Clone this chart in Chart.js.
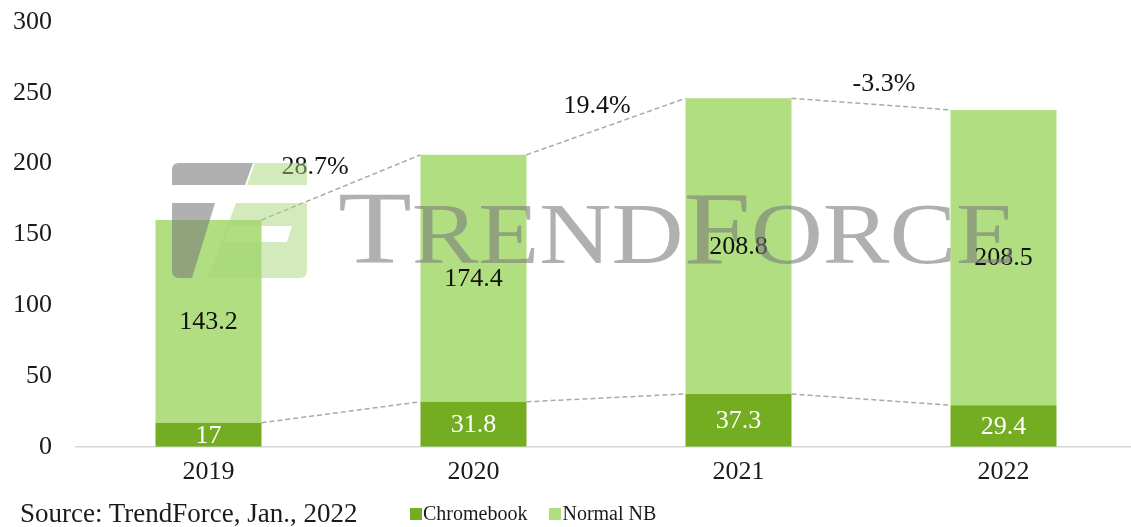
<!DOCTYPE html>
<html>
<head>
<meta charset="utf-8">
<script src="https://cdn.jsdelivr.net/npm/chart.js@4.4.0/dist/chart.umd.min.js"></script>
<style>
  html, body { margin: 0; padding: 0; background: #fff; overflow: hidden; }
  #wrap { position: relative; width: 1136px; height: 527px; }
  .note { position: absolute; font-family: "Liberation Serif", serif; color: #1a1a1a; white-space: nowrap; }
  #source { left: 20px; top: 498px; font-size: 27px; }
  #legend { left: 410px; top: 502px; font-size: 20px; }
  #legend span.box { display: inline-block; width: 12px; height: 12px; margin-right: 1px; }
  #legend span.item { margin-right: 22px; }
</style>
</head>
<body>
<div id="wrap">
  <canvas id="chart" width="1136" height="527"></canvas>
  <div class="note" id="source">Source: TrendForce, Jan., 2022</div>
  <div class="note" id="legend"></div>
</div>
<script>
const years = ['2019', '2020', '2021', '2022'];
const chromebook = [17, 31.8, 37.3, 29.4];
const normalNB = [143.2, 174.4, 208.8, 208.5];
const growth = ['28.7%', '19.4%', '-3.3%'];
const seriesNames = ['Chromebook', 'Normal NB'];
const seriesColors = ['#74ac22', '#b0de80'];
const labelColors = ['#ffffff', '#111111'];

const serif = '"Liberation Serif", "Times New Roman", serif';

// legend in html, under the axis
const legendEl = document.getElementById('legend');
seriesNames.forEach((name, i) => {
  legendEl.innerHTML += `<span class="item"><span class="box" style="background:${seriesColors[i]}"></span>${name}</span>`;
});

const valueLabels = {
  id: 'valueLabels',
  afterDatasetsDraw(chart) {
    const ctx = chart.ctx;
    ctx.save();
    ctx.font = '26px ' + serif;
    ctx.textAlign = 'center';
    ctx.textBaseline = 'middle';
    chart.data.datasets.forEach((ds, di) => {
      const meta = chart.getDatasetMeta(di);
      meta.data.forEach((el, i) => {
        ctx.fillStyle = labelColors[di];
        ctx.fillText(String(ds.data[i]), el.x, (el.y + el.base) / 2 + 1);
      });
    });

    // dashed connectors between bar tops
    ctx.strokeStyle = '#a9a9a9';
    ctx.lineWidth = 1.5;
    ctx.setLineDash([5, 3]);
    [0, 1].forEach(di => {
      const bars = chart.getDatasetMeta(di).data;
      for (let i = 0; i < bars.length - 1; i++) {
        const a = bars[i], b = bars[i + 1];
        ctx.beginPath();
        ctx.moveTo(a.x + a.width / 2, a.y);
        ctx.lineTo(b.x - b.width / 2, b.y);
        ctx.stroke();
      }
    });
    ctx.setLineDash([]);

    // growth labels over the total connectors
    const tops = chart.getDatasetMeta(1).data;
    const dx = [-26, -9, 13];
    ctx.fillStyle = '#111111';
    growth.forEach((g, i) => {
      const a = tops[i], b = tops[i + 1];
      const mx = (a.x + a.width / 2 + b.x - b.width / 2) / 2;
      const my = (a.y + b.y) / 2;
      ctx.fillText(g, mx + dx[i], my - 20);
    });
    ctx.restore();
  }
};

// faded TrendForce mark on top of everything
const watermark = {
  id: 'watermark',
  afterDraw(chart) {
    const ctx = chart.ctx;
    ctx.save();
    ctx.globalAlpha = 0.6;

    // logo
    ctx.fillStyle = '#7c7c7c';
    ctx.beginPath();
    ctx.moveTo(179, 163); ctx.lineTo(253, 163); ctx.lineTo(245, 185); ctx.lineTo(172, 185); ctx.lineTo(172, 170);
    ctx.quadraticCurveTo(172, 163, 179, 163); ctx.fill();
    ctx.beginPath();
    ctx.moveTo(172, 203); ctx.lineTo(215, 203); ctx.lineTo(192, 278); ctx.lineTo(179, 278);
    ctx.quadraticCurveTo(172, 278, 172, 271); ctx.fill();
    ctx.globalAlpha = 0.5;
    ctx.fillStyle = '#a6d67a';
    ctx.beginPath();
    ctx.moveTo(255, 163); ctx.lineTo(307, 163); ctx.lineTo(307, 185); ctx.lineTo(247, 185); ctx.fill();
    ctx.beginPath();
    ctx.moveTo(236, 203); ctx.lineTo(307, 203); ctx.lineTo(307, 226); ctx.lineTo(229, 226);
    ctx.lineTo(224, 242); ctx.lineTo(287, 242); ctx.lineTo(292, 226); ctx.lineTo(307, 226);
    ctx.lineTo(307, 271); ctx.quadraticCurveTo(307, 278, 300, 278); ctx.lineTo(208, 278);
    ctx.closePath();
    ctx.fill();

    // word mark, small caps style
    ctx.globalAlpha = 0.6;
    const parts = [['T', 104], ['REND', 86], ['F', 104], ['ORCE', 86]];
    let total = 0;
    parts.forEach(p => { ctx.font = p[1] + 'px ' + serif; total += ctx.measureText(p[0]).width; });
    const x0 = 338, x1 = 1017, base = 263;
    const sx = (x1 - x0) / total;
    ctx.fillStyle = '#7c7c7c';
    ctx.textBaseline = 'alphabetic';
    ctx.translate(x0, base);
    ctx.scale(sx, 1);
    let x = 0;
    parts.forEach(p => {
      ctx.font = p[1] + 'px ' + serif;
      ctx.fillText(p[0], x, 0);
      x += ctx.measureText(p[0]).width;
    });
    ctx.restore();
  }
};

new Chart(document.getElementById('chart'), {
  type: 'bar',
  data: {
    labels: years,
    datasets: [
      { label: seriesNames[0], data: chromebook, backgroundColor: seriesColors[0] },
      { label: seriesNames[1], data: normalNB, backgroundColor: seriesColors[1] }
    ]
  },
  options: {
    responsive: false,
    animation: false,
    layout: { padding: { top: 22, bottom: 29, left: 0, right: 0 } },
    datasets: { bar: { categoryPercentage: 1, barPercentage: 0.4 } },
    plugins: { legend: { display: false }, tooltip: { enabled: false } },
    scales: {
      x: {
        stacked: true,
        grid: { display: false, drawTicks: false },
        border: { color: '#d6d6d6', width: 1.5 },
        ticks: { color: '#1a1a1a', font: { family: serif, size: 26 }, padding: 10 }
      },
      y: {
        stacked: true,
        min: 0, max: 300,
        ticks: { stepSize: 50, color: '#1a1a1a', font: { family: serif, size: 26 }, padding: 24 },
        grid: { display: false, drawTicks: false },
        border: { display: false },
        afterFit(scale) {
          scale.width = 76;
          scale.paddingTop = 0;
          scale.paddingBottom = 0;
        }
      }
    }
  },
  plugins: [valueLabels, watermark]
});
</script>
</body>
</html>
